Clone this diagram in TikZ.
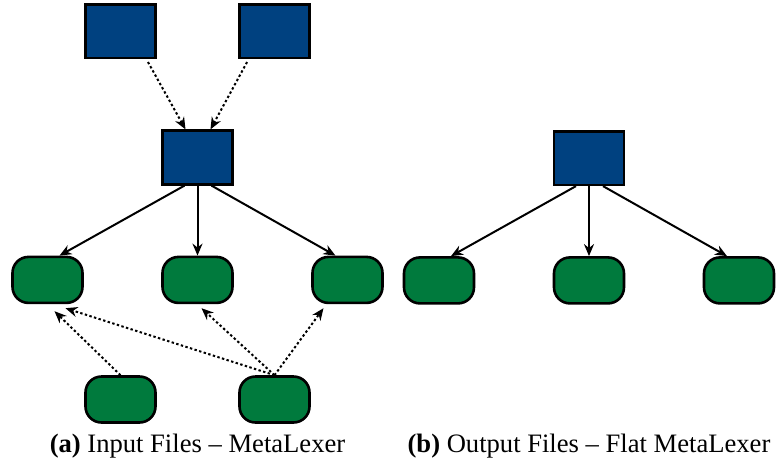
\documentclass[tikz,border=0pt]{standalone}
\usepackage{fontspec}
\setmainfont{Liberation Serif}
\usepackage{xcolor}
\usepackage{tikz}
\usetikzlibrary{arrows.meta, positioning}

\definecolor{mlblue}{RGB}{0,65,128}
\definecolor{mlgreen}{RGB}{0,122,61}

\begin{document}
\begin{tikzpicture}[node distance=35pt]

\tikzstyle{layout}=[rectangle,draw,line width=1.3pt,fill=mlblue,inner sep=0pt,minimum width=35pt,minimum height=26.8pt]
\tikzstyle{comp}=[rectangle,draw,line width=1.3pt,fill=mlgreen,rounded corners=8pt,inner sep=0pt,minimum width=35pt,minimum height=23pt]
\tikzstyle{line}=[draw,line width=1pt,-{Stealth[length=6pt,width=5pt]}]
\tikzstyle{incl}=[line,dash pattern=on 1.2pt off 1.2pt]
\tikzstyle{caption}=[font=\fontsize{13.3}{16}\selectfont,anchor=base,inner sep=0pt]

\useasboundingbox (0,0) rectangle (389pt,-231pt);

% (a) input files
\node (lay) [layout] at (98.75pt,-78.75pt) {};
\node (layA) [layout,above left=35pt and 2.2pt of lay] {};
\node (layB) [layout,above right=35pt and 2.2pt of lay] {};

\node (compB) [comp,below=of lay] {};
\node (compA) [comp,left=38.7pt of compB] {};
\node (compC) [comp,right=38.7pt of compB] {};

\node (helpA) [comp,anchor=north] at ([yshift=-35.5pt]compA.south -| layA) {};
\node (helpB) [comp,anchor=north] at ([yshift=-35.5pt]compA.south -| layB) {};

\draw[incl,shorten <=1.5pt] ([xshift=13pt]layA.south) -- ([xshift=-6pt]lay.north);
\draw[incl,shorten <=1.5pt] ([xshift=-13pt]layB.south) -- ([xshift=6.5pt]lay.north);

\draw[line] ([xshift=-6.5pt]lay.south) -- ([xshift=6pt]compA.north);
\draw[line] (lay) -- (compB);
\draw[line] ([xshift=7pt]lay.south) -- ([xshift=-6pt]compC.north);

\draw[incl] (helpA.north) -- ([xshift=3.5pt,yshift=-3.5pt]compA.south);
\draw[incl] (helpB.north) -- ([xshift=9pt,yshift=-2pt]compA.south);
\draw[incl] (helpB.north) -- ([xshift=2pt,yshift=-2pt]compB.south);
\draw[incl] (helpB.north) -- ([xshift=-12pt,yshift=-2pt]compC.south);

% (b) output files
\node (flat) [layout] at (294.5pt,-79pt) {};
\node (flatB) [comp,below=of flat] {};
\node (flatA) [comp,left=38.7pt of flatB] {};
\node (flatC) [comp,right=38.7pt of flatB] {};

\draw[line] ([xshift=-6.5pt]flat.south) -- ([xshift=6pt]flatA.north);
\draw[line] (flat) -- (flatB);
\draw[line] ([xshift=7pt]flat.south) -- ([xshift=-6pt]flatC.north);

% captions
\coordinate (capline) at (0,-226pt);
\node (capA) [caption] at (lay |- capline) {\textbf{(a)} Input Files -- MetaLexer};
\node (capB) [caption] at (flat |- capline) {\textbf{(b)} Output Files -- Flat MetaLexer};

\end{tikzpicture}
\end{document}
